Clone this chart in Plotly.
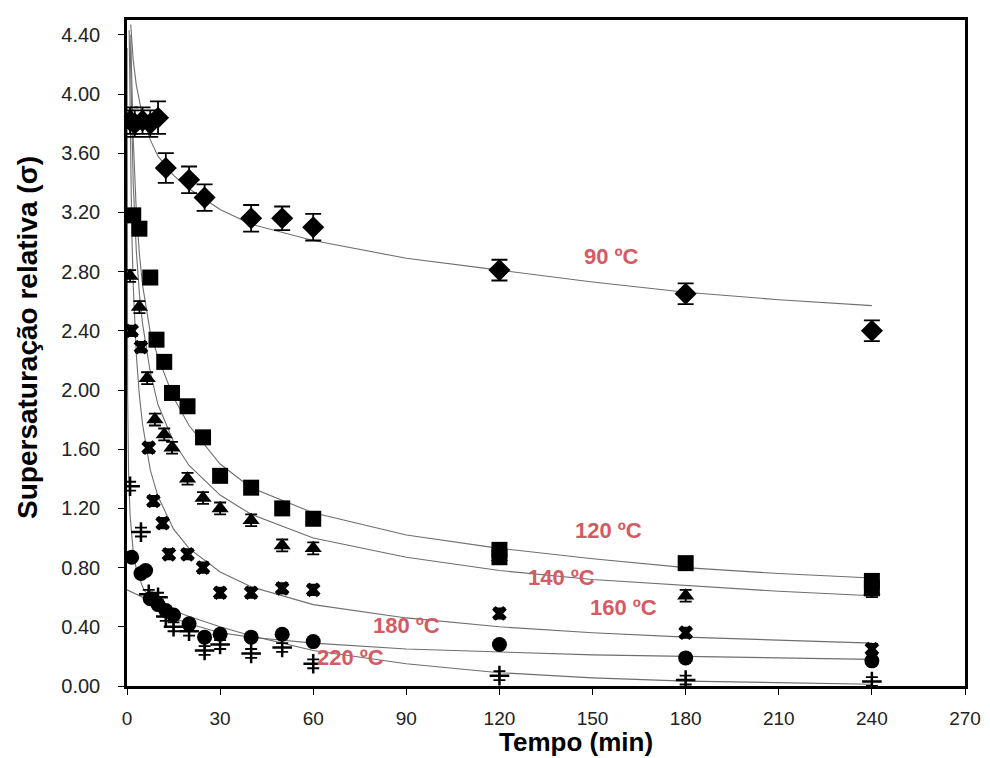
import plotly.graph_objects as go

# ---------------- data ----------------
t90 = [1, 2.5, 5, 7.5, 10, 12.5, 20, 25, 40, 50, 60, 120, 180, 240]
v90 = [3.82, 3.80, 3.82, 3.80, 3.84, 3.50, 3.42, 3.30, 3.16, 3.16, 3.10, 2.81, 2.65, 2.40]
e90 = [0.09, 0.09, 0.09, 0.09, 0.11, 0.10, 0.09, 0.09, 0.09, 0.08, 0.09, 0.07, 0.07, 0.07]

t120 = [2, 4, 7.5, 9.5, 12, 14.5, 19.5, 24.5, 30, 40, 50, 60, 120, 120, 180, 240, 240]
v120 = [3.18, 3.09, 2.76, 2.34, 2.19, 1.98, 1.89, 1.68, 1.42, 1.34, 1.20, 1.13, 0.92, 0.87, 0.83, 0.71, 0.66]

t140 = [1, 4, 6.5, 9, 12, 14.5, 19.5, 24.5, 30, 40, 50, 60, 120, 180, 240]
v140 = [2.77, 2.56, 2.08, 1.80, 1.70, 1.61, 1.40, 1.27, 1.20, 1.12, 0.95, 0.93, 0.87, 0.61, 0.64]

t160 = [1.5, 4.5, 7, 8.5, 11.5, 13.5, 19.5, 24.5, 30, 40, 50, 60, 120, 180, 240]
v160 = [2.40, 2.29, 1.61, 1.25, 1.10, 0.89, 0.89, 0.80, 0.63, 0.63, 0.66, 0.65, 0.49, 0.36, 0.25]

t180 = [1.5, 4.5, 6, 7.5, 10, 12.5, 15, 20, 25, 30, 40, 50, 60, 120, 180, 240]
v180 = [0.87, 0.76, 0.78, 0.59, 0.55, 0.51, 0.48, 0.42, 0.33, 0.35, 0.33, 0.35, 0.30, 0.28, 0.19, 0.17]

t220 = [1, 4.5, 7, 10, 12.5, 15, 20, 25, 30, 40, 50, 60, 120, 180, 240]
v220 = [1.35, 1.04, 0.62, 0.60, 0.47, 0.40, 0.37, 0.24, 0.28, 0.22, 0.26, 0.15, 0.07, 0.04, 0.03]

# fitted curves
ct90 = [1.2, 2, 3, 5, 7.5, 10, 15, 20, 30, 40, 60, 90, 120, 150, 180, 210, 240]
cv90 = [4.47, 4.23, 4.06, 3.85, 3.69, 3.58, 3.45, 3.36, 3.22, 3.12, 3.01, 2.89, 2.81, 2.73, 2.66, 2.61, 2.57]

ct120 = [1.2, 1.5, 2, 3, 4, 5, 7.5, 10, 15, 20, 30, 40, 60, 90, 120, 150, 180, 210, 240]
cv120 = [4.40, 4.08, 3.70, 3.21, 2.92, 2.71, 2.39, 2.22, 1.95, 1.76, 1.50, 1.34, 1.17, 1.02, 0.93, 0.86, 0.80, 0.76, 0.73]

ct140 = [1, 1.5, 2, 3, 4, 5, 7.5, 10, 15, 20, 30, 40, 60, 90, 120, 150, 180, 210, 240]
cv140 = [4.36, 3.77, 3.40, 2.94, 2.65, 2.45, 2.12, 1.90, 1.65, 1.49, 1.29, 1.16, 1.00, 0.87, 0.78, 0.72, 0.68, 0.64, 0.61]

ct160 = [0.7, 1, 1.5, 2, 3, 4, 5, 7.5, 10, 15, 20, 30, 40, 60, 90, 120, 150, 180, 210, 240]
cv160 = [4.43, 3.75, 3.10, 2.71, 2.24, 1.96, 1.77, 1.46, 1.28, 1.06, 0.93, 0.77, 0.67, 0.55, 0.46, 0.40, 0.36, 0.33, 0.31, 0.29]

ct180 = [0.02, 0.05, 0.1, 0.2, 0.5, 1, 2, 3, 5, 7.5, 10, 15, 20, 30, 40, 60, 90, 120, 150, 180, 210, 240]
cv180 = [4.31, 3.17, 2.50, 1.98, 1.45, 1.15, 0.91, 0.79, 0.67, 0.58, 0.53, 0.46, 0.42, 0.36, 0.33, 0.29, 0.25, 0.23, 0.21, 0.20, 0.19, 0.18]

ct220 = [0, 5, 10, 15, 20, 30, 40, 60, 90, 120, 150, 180, 210, 240]
cv220 = [0.65, 0.60, 0.55, 0.51, 0.47, 0.40, 0.34, 0.24, 0.15, 0.09, 0.055, 0.033, 0.02, 0.012]

labels = ["90 ºC", "120 ºC", "140 ºC", "160 ºC", "180 ºC", "220 ºC"]
label_t = [156, 155, 140, 160, 90, 72]
label_v = [2.90, 1.05, 0.73, 0.53, 0.41, 0.195]

x_ticks = [0, 30, 60, 90, 120, 150, 180, 210, 240, 270]
y_ticks = [0.0, 0.4, 0.8, 1.2, 1.6, 2.0, 2.4, 2.8, 3.2, 3.6, 4.0, 4.4]

FONT = "Liberation Sans, Arial, sans-serif"

# ---------------- figure ----------------
fig = go.Figure()

curve_style = dict(color="#6e6e6e", width=1.1)
for ct, cv in [(ct90, cv90), (ct120, cv120), (ct140, cv140),
               (ct160, cv160), (ct180, cv180), (ct220, cv220)]:
    fig.add_trace(go.Scatter(x=ct, y=cv, mode="lines", line=curve_style,
                             hoverinfo="skip", showlegend=False))

eb = dict(type="constant", color="black", thickness=1.8, width=6)

fig.add_trace(go.Scatter(
    x=t90, y=v90, mode="markers",
    marker=dict(symbol="diamond", size=17, color="black"),
    error_y=dict(type="data", array=e90, color="black", thickness=1.8, width=8),
    showlegend=False))

fig.add_trace(go.Scatter(
    x=t140, y=v140, mode="markers",
    marker=dict(symbol="triangle-up", size=15, color="black"),
    error_y=dict(eb, value=0.04),
    showlegend=False))

fig.add_trace(go.Scatter(
    x=t160, y=v160, mode="markers",
    marker=dict(symbol="x", size=13, color="black"),
    error_y=dict(eb, value=0.035),
    showlegend=False))

fig.add_trace(go.Scatter(
    x=t220, y=v220, mode="markers",
    marker=dict(symbol="cross-thin", size=14, color="black",
                line=dict(color="black", width=2.5)),
    error_y=dict(eb, value=0.03),
    showlegend=False))

fig.add_trace(go.Scatter(
    x=t180, y=v180, mode="markers",
    marker=dict(symbol="circle", size=15, color="black"),
    showlegend=False))

fig.add_trace(go.Scatter(
    x=t120, y=v120, mode="markers",
    marker=dict(symbol="square", size=16, color="black"),
    showlegend=False))

for txt, lt, lv in zip(labels, label_t, label_v):
    fig.add_annotation(x=lt, y=lv, text="<b>" + txt + "</b>", showarrow=False,
                       font=dict(family=FONT, size=22, color="#d65a64"))

fig.add_annotation(xref="paper", yref="paper", x=0.536, y=-0.084,
                   text="<b>Tempo (min)</b>", showarrow=False,
                   xanchor="center", yanchor="middle",
                   font=dict(family=FONT, size=26, color="black"))

fig.add_annotation(xref="paper", yref="paper", x=-0.119, y=0.523,
                   text="<b>Supersaturação relativa (σ)</b>", showarrow=False,
                   textangle=-90, xanchor="center", yanchor="middle",
                   font=dict(family=FONT, size=28, color="black"))

fig.update_xaxes(range=[0, 270], tickvals=x_ticks, ticktext=[str(v) for v in x_ticks],
                 showgrid=False, zeroline=False, showline=True, mirror=True,
                 linecolor="black", linewidth=2.5, ticks="outside", ticklen=6,
                 tickcolor="black", tickwidth=1, ticklabelstandoff=7,
                 tickfont=dict(family=FONT, size=19, color="#222"))
fig.update_yaxes(range=[0, 4.5], tickvals=y_ticks, ticktext=[f"{v:.2f}" for v in y_ticks],
                 showgrid=False, zeroline=False, showline=True, mirror=True,
                 linecolor="black", linewidth=2.5, ticks="outside", ticklen=6,
                 tickcolor="black", tickwidth=1, ticklabelstandoff=14,
                 tickfont=dict(family=FONT, size=20, color="#222"))

fig.update_layout(width=982, height=750,
                  margin=dict(l=119, r=23, t=9, b=72),
                  paper_bgcolor="white", plot_bgcolor="white",
                  showlegend=False)

fig.write_html("out.html")
